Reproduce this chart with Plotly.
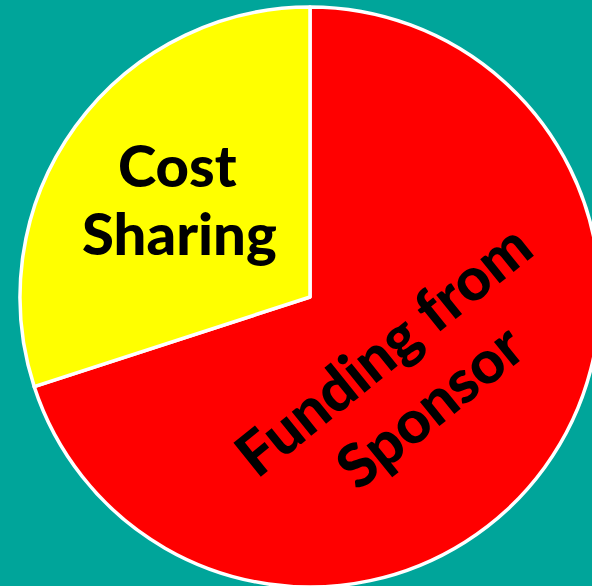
import plotly.graph_objects as go

# Data
labels = ["Funding from Sponsor", "Cost Sharing"]
values = [70, 30]
colors = ["#FF0000", "#FFFF00"]

# Text lines shown on the slices
sponsor_lines = ["Funding from", "Sponsor"]
cost_lines = ["Cost", "Sharing"]

W, H = 620, 587
BG = "#00A59A"

fig = go.Figure(
    go.Pie(
        labels=labels,
        values=values,
        sort=False,
        direction="clockwise",
        rotation=0,
        marker=dict(colors=colors, line=dict(color="white", width=3.5)),
        textinfo="none",
        hoverinfo="label+percent",
        showlegend=False,
        domain=dict(x=[0, 1], y=[0, 1 - 7 / H]),
    )
)

font = dict(family="Lato, 'Open Sans', sans-serif", size=58, color="black", weight=900)

def px(x, y):
    return x / W, 1 - y / H

ann = []
# Cost Sharing (horizontal, two lines)
for line, (cx, cy) in zip(cost_lines, [(177, 164), (179, 233)]):
    x, y = px(cx, cy)
    ann.append(dict(text=line, x=x, y=y, xref="paper", yref="paper",
                    showarrow=False, font=font, xanchor="center", yanchor="middle"))
# Funding from Sponsor (rotated)
for line, (cx, cy) in zip(sponsor_lines, [(382, 349), (429, 405)]):
    x, y = px(cx, cy)
    ann.append(dict(text=line, x=x, y=y, xref="paper", yref="paper",
                    showarrow=False, font=dict(font, size=60), textangle=-39,
                    xanchor="center", yanchor="middle"))

fig.update_layout(
    width=W,
    height=H,
    margin=dict(l=0, r=0, t=0, b=0),
    paper_bgcolor=BG,
    plot_bgcolor=BG,
    annotations=ann,
)

fig.write_html(
    "out.html",
    config={"displayModeBar": False},
    post_script="document.documentElement.style.overflow='hidden';"
                "document.body.style.margin='0';document.body.style.overflow='hidden';"
                "document.body.style.background='" + BG + "';",
)
